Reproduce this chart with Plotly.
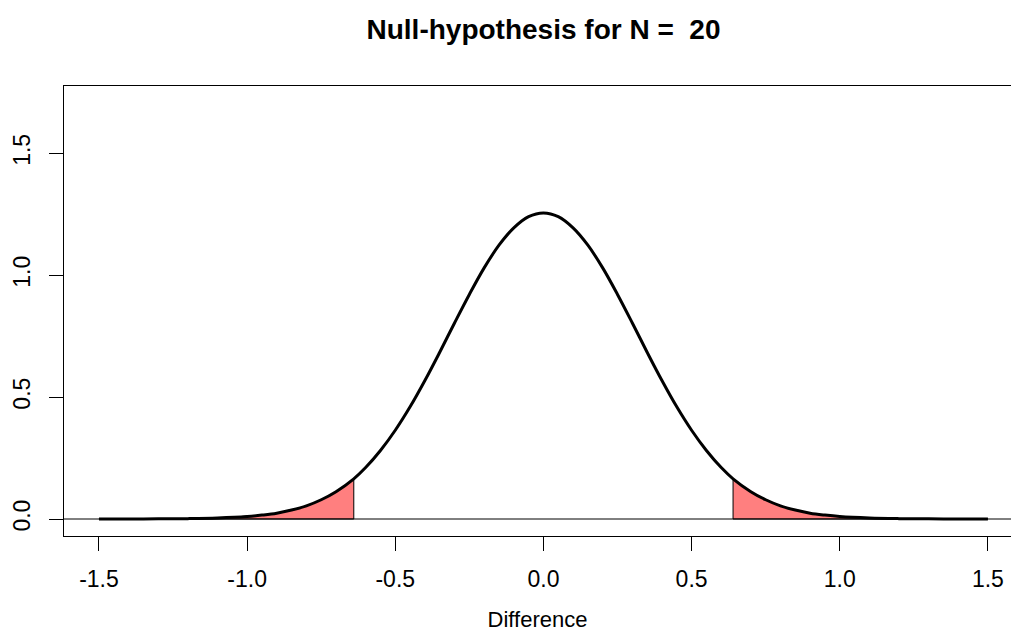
import plotly.graph_objects as go

# Values
diff_x = [-1.50, -1.40, -1.30, -1.20, -1.10, -1.00, -0.95, -0.90, -0.85, -0.80, -0.75, -0.70,
          -0.64, -0.60, -0.55, -0.50, -0.45, -0.40, -0.35, -0.30, -0.25, -0.20, -0.15, -0.10,
          -0.05, 0.00, 0.05, 0.10, 0.15, 0.20, 0.25, 0.30, 0.35, 0.40, 0.45, 0.50, 0.55, 0.60,
          0.64, 0.70, 0.75, 0.80, 0.85, 0.90, 0.95, 1.00, 1.10, 1.20, 1.30, 1.40, 1.50]
density = [0.0001, 0.0002, 0.0006, 0.0015, 0.004, 0.010, 0.016, 0.024, 0.037, 0.054, 0.079, 0.112,
           0.165, 0.211, 0.281, 0.364, 0.460, 0.568, 0.684, 0.804, 0.921, 1.030, 1.123, 1.194,
           1.240, 1.255, 1.240, 1.194, 1.123, 1.030, 0.921, 0.804, 0.684, 0.568, 0.460, 0.364,
           0.281, 0.211, 0.165, 0.112, 0.079, 0.054, 0.037, 0.024, 0.016, 0.010, 0.004, 0.0015,
           0.0006, 0.0002, 0.0001]
critical = 0.64
x_ticks = [-1.5, -1.0, -0.5, 0.0, 0.5, 1.0, 1.5]
x_tick_labels = ["-1.5", "-1.0", "-0.5", "0.0", "0.5", "1.0", "1.5"]
y_ticks = [0.0, 0.5, 1.0, 1.5]
y_tick_labels = ["0.0", "0.5", "1.0", "1.5"]
title_text = "Null-hypothesis for N =  20"
x_title = "Difference"

FONT = "Liberation Sans, Arial, sans-serif"
W, H = 1011, 644

fig = go.Figure()

# left tail polygon
lx = [x for x in diff_x if x <= -critical]
ly = [d for x, d in zip(diff_x, density) if x <= -critical]
fig.add_trace(go.Scatter(x=lx + [lx[-1], lx[0], lx[0]], y=ly + [0, 0, ly[0]],
                         mode="lines", fill="toself", fillcolor="rgba(255,0,0,0.5)",
                         line=dict(color="black", width=1), hoverinfo="skip", showlegend=False))
# right tail polygon
rx = [x for x in diff_x if x >= critical]
ry = [d for x, d in zip(diff_x, density) if x >= critical]
fig.add_trace(go.Scatter(x=rx + [rx[-1], rx[0], rx[0]], y=ry + [0, 0, ry[0]],
                         mode="lines", fill="toself", fillcolor="rgba(255,0,0,0.5)",
                         line=dict(color="black", width=1), hoverinfo="skip", showlegend=False))

# horizontal line at zero
fig.add_hline(y=0, line=dict(color="black", width=1))

# density curve
fig.add_trace(go.Scatter(x=diff_x, y=density, mode="lines", line_shape="spline",
                         line=dict(color="black", width=3), showlegend=False))

fig.update_layout(
    width=W, height=H,
    margin=dict(l=64, r=0, t=86, b=108),
    plot_bgcolor="white", paper_bgcolor="white",
    font=dict(family=FONT, size=23, color="black"),
    title=dict(text="<b>" + title_text + "</b>", x=543.5 / W, xanchor="center",
               xref="container", y=1 - 29 / H, yanchor="middle", yref="container",
               font=dict(size=28, family=FONT, color="black")),
    xaxis=dict(range=[-1.618, 1.578], tickvals=x_ticks, ticktext=x_tick_labels,
               showgrid=False, zeroline=False, showline=True, mirror=True,
               linecolor="black", linewidth=1, ticks="outside", ticklen=14,
               tickcolor="black", tickwidth=1, ticklabelstandoff=8,
               title=dict(text=x_title, standoff=21, font=dict(size=22))),
    yaxis=dict(range=[-0.0697, 1.776], tickvals=y_ticks, ticktext=y_tick_labels,
               showgrid=False, zeroline=False, showline=True, mirror=False,
               linecolor="black", linewidth=1, ticks="outside", ticklen=14,
               tickcolor="black", tickwidth=1, tickangle=-90, ticklabelstandoff=10),
)

fig.write_html("out.html", config={"displayModeBar": False},
               post_script="document.body.style.margin='0';document.body.style.overflow='hidden';")
